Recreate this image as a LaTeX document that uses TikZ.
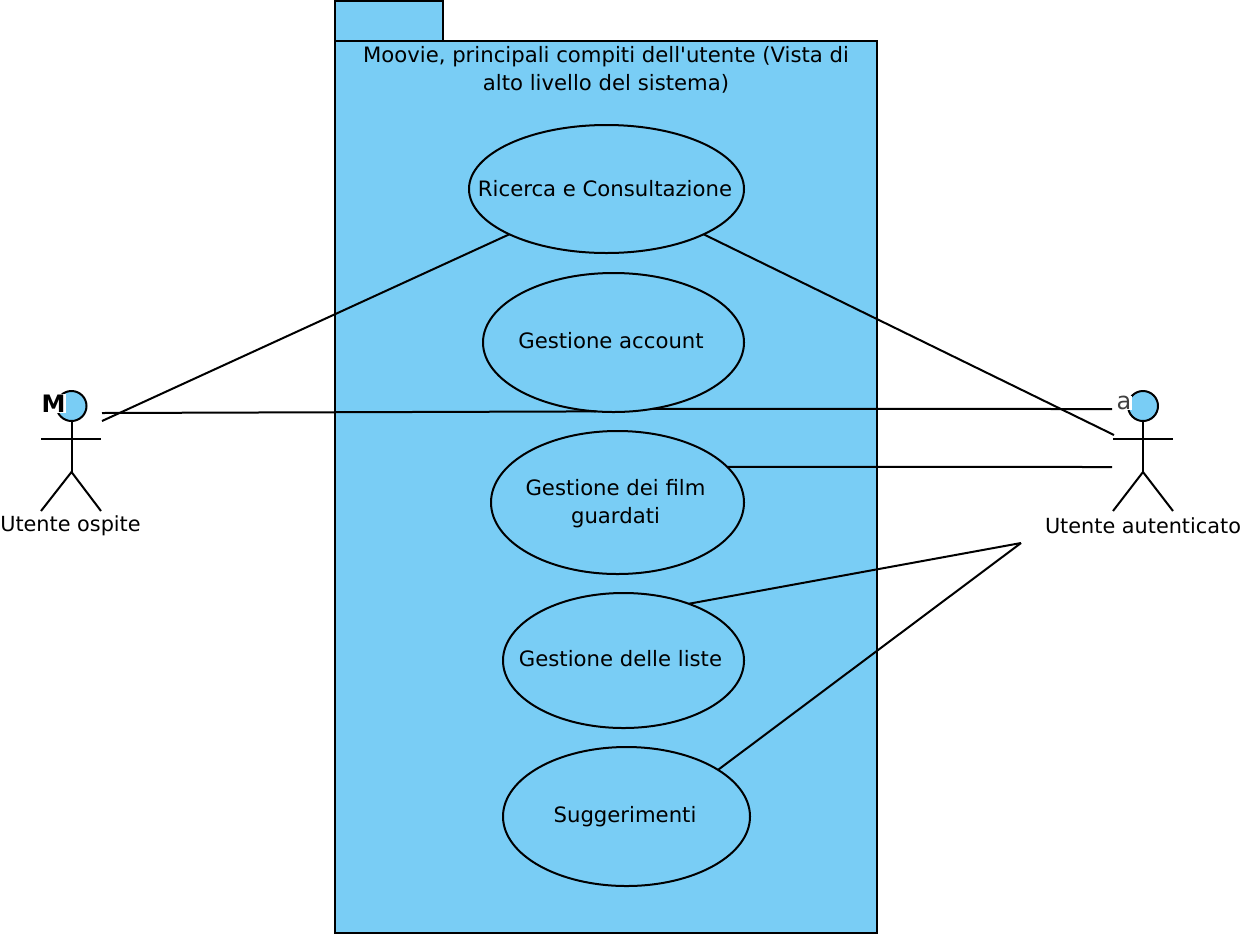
\documentclass[tikz,border=0pt]{standalone}
\usepackage{fontspec}
\setmainfont{DejaVu Sans}
\newfontfamily\plainface{DejaVu Sans}
\usetikzlibrary{shapes.geometric}
\definecolor{umlblue}{RGB}{121,205,245}
\tikzset{
  line/.style={draw=black,line width=2pt},
  box/.style={line,fill=umlblue},
  usecase/.style={ellipse,line,fill=umlblue,inner sep=0pt,outer sep=0pt},
  txt/.style={font=\fontsize{21.2}{28}\selectfont,text=black,inner sep=0pt,align=center},
  actorname/.style={txt,font=\fontsize{20.8}{29}\selectfont},
  head/.style={circle,line,fill=umlblue,minimum size=30pt,inner sep=0pt,outer sep=0pt},
}
\begin{document}
\begin{tikzpicture}[x=1pt,y=-1pt]
\useasboundingbox (0,0) rectangle (1241,935);
\fill[white] (0,0) rectangle (1241,935);
% package
\draw[box] (335,1) rectangle (443,41);
\draw[box] (335,41) rectangle (877,933);
\node[txt] (title) at (606,69.5) {Moovie, principali compiti dell{\plainface'}utente (Vista di\\alto livello del sistema)};
% use cases
\node[usecase,minimum width=275pt,minimum height=128pt,label={[txt,xshift=-1.5pt]center:Ricerca e Consultazione}] (ric) at (606.5,189) {};
\node[usecase,minimum width=261pt,minimum height=139pt,label={[txt,xshift=-2.5pt,yshift=1.5pt]center:Gestione account}] (acc) at (613.5,342.5) {};
\node[usecase,minimum width=253pt,minimum height=143pt,label={[txt,xshift=-2pt,yshift=-1pt]center:Gestione dei film\\guardati}] (film) at (617.5,502.5) {};
\node[usecase,minimum width=241pt,minimum height=135pt,label={[txt,xshift=-3pt,yshift=1.5pt]center:Gestione delle liste}] (liste) at (623.5,660.5) {};
\node[usecase,minimum width=247pt,minimum height=139pt,label={[txt,xshift=-1.5pt]center:Suggerimenti}] (sug) at (626.5,816.5) {};
% left actor
\node[head] (h1) at (71.5,406) {};
\coordinate (hip1) at (71.5,472);
\coordinate (la1) at (41,439);
\coordinate (ra1) at (101,439);
\coordinate (ll1) at (41,511);
\coordinate (rl1) at (101,511);
\draw[line] (h1.south) -- (hip1);
\draw[line] (la1) -- (ra1);
\draw[line] (ll1) -- (hip1) -- (rl1);
\node[txt,fill=white,font=\fontsize{24}{24}\selectfont\bfseries,inner sep=0.5pt] (m1) at (53.5,403.5) {M};
\node[actorname] (n1) at (70.5,526) {Utente ospite};
% right actor
\node[head] (h2) at (1143,406) {};
\coordinate (hip2) at (1143,472);
\coordinate (la2) at (1113,439);
\coordinate (ra2) at (1173,439);
\coordinate (ll2) at (1113,511);
\coordinate (rl2) at (1173,511);
\draw[line] (h2.south) -- (hip2);
\draw[line] (la2) -- (ra2);
\draw[line] (ll2) -- (hip2) -- (rl2);
\node[txt,fill=white,text=black!75,font=\fontsize{24}{24}\selectfont,inner sep=0.5pt] (a2) at (1124,403) {a};
\node[actorname] (n2) at (1143,526) {Utente autenticato};
% connector free ends
\coordinate (o1) at (102,421);
\coordinate (o2) at (102,413);
\coordinate (u1) at (1114,435);
\coordinate (u2) at (1112,409);
\coordinate (u3) at (1112,467);
\coordinate (u4) at (1021,543);
% connectors
\draw[line] (o1) -- (ric.205.7);
\draw[line] (ric.-25) -- (u1);
\draw[line] (o2) -- (acc.256.5);
\draw[line] (acc.-60.3) -- (u2);
\draw[line] (film.18.6) -- (u3);
\draw[line] (liste.41.7) -- (u4);
\draw[line] (sug.27.2) -- (u4);
\end{tikzpicture}
\end{document}
